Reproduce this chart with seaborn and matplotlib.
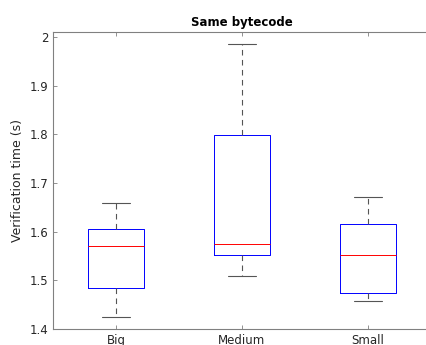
import numpy as np
import pandas as pd
import matplotlib
matplotlib.use("Agg")
import matplotlib.pyplot as plt
import seaborn as sns

categories = ["Big", "Medium", "Small"]
# five-number summaries: low whisker, Q1, median, Q3, high whisker
big = [1.425, 1.484, 1.571, 1.605, 1.658]
medium = [1.509, 1.553, 1.575, 1.798, 1.986]
small = [1.458, 1.474, 1.553, 1.616, 1.672]

df = pd.DataFrame({
    "group": np.repeat(categories, 5),
    "time": big + medium + small,
})

sns.set_style("white")
plt.rcParams["font.family"] = ["DejaVu Sans"]

fig = plt.figure(figsize=(4.26, 3.45), dpi=100)
ax = fig.add_axes([0.1244, 0.0464, 0.8873, 0.8608])

sns.boxplot(data=df, x="group", y="time", order=categories, ax=ax,
            width=0.45, whis=np.inf, fill=False, linewidth=0.7,
            boxprops=dict(color="#0000ff", linewidth=0.7),
            medianprops=dict(color="#ff0000", linewidth=0.7),
            whiskerprops=dict(color="#555555", linestyle=(0, (5, 4)), linewidth=0.8),
            capprops=dict(color="#555555", linewidth=0.8))

ax.set_xlim(-0.5, 2.5)
ax.set_ylim(1.4, 2.0103)
ax.set_yticks([1.4, 1.5, 1.6, 1.7, 1.8, 1.9, 2.0])
ax.set_yticklabels(["1.4", "1.5", "1.6", "1.7", "1.8", "1.9", "2"])
ax.set_xlabel("")
ax.set_ylabel("Verification time (s)", fontsize=9, color="#262626")
ax.set_title("Same bytecode", fontsize=8.5, fontweight="bold", pad=4, color="black")

for name, s in ax.spines.items():
    s.set_visible(name != "right")
    s.set_color("#808080")
    s.set_linewidth(0.8)
ax.tick_params(axis="both", direction="in", length=3, width=0.6, color="#808080",
               labelsize=8.5, labelcolor="#262626", top=True, right=False, left=True, bottom=True)

fig.savefig("out.png", dpi=100)
